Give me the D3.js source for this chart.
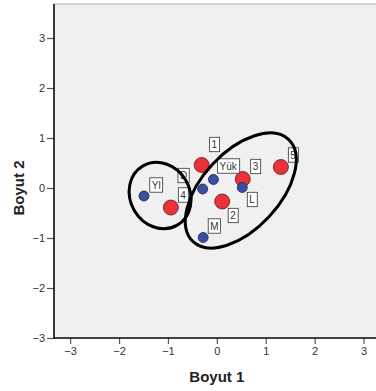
<!DOCTYPE html>
<html>
<head>
<meta charset="utf-8">
<script src="https://cdn.jsdelivr.net/npm/d3@7"></script>
<style>
  html, body { margin: 0; padding: 0; background: #ffffff; }
  svg { display: block; font-family: "Liberation Sans", Arial, Helvetica, sans-serif; }
</style>
</head>
<body>
<svg id="chart" width="376" height="391"></svg>
<script>
// Stimulus coordinates (red) and subject-group coordinates (blue), two dimensions
const stimulusNames = ["1", "2", "3", "4", "5"];
const stimulusDim1  = [-0.31, 0.11, 0.53, -0.94, 1.31];
const stimulusDim2  = [0.46, -0.27, 0.18, -0.39, 0.42];
const stimulusLabelDim1 = [-0.05, 0.33, 0.79, -0.69, 1.56];
const stimulusLabelDim2 = [0.87, -0.55, 0.43, -0.14, 0.66];

const groupNames = ["Yl", "D", "Yük", "L", "M"];
const groupDim1  = [-1.49, -0.29, -0.07, 0.52, -0.28];
const groupDim2  = [-0.16, -0.02, 0.17, 0.01, -0.99];
const groupLabelDim1 = [-1.24, -0.68, 0.23, 0.72, -0.05];
const groupLabelDim2 = [0.06, 0.25, 0.44, -0.23, -0.76];

// Cluster outlines: centre, semi-axes (dimension units) and tilt in degrees
const clusterCx = [-1.16, 0.49];
const clusterCy = [-0.15, -0.05];
const clusterRx = [0.70, 1.43];
const clusterRy = [0.61, 0.79];
const clusterTilt = [60, -47];

const xTicks = [-3, -2, -1, 0, 1, 2, 3];
const yTicks = [-3, -2, -1, 0, 1, 2, 3];

const svg = d3.select("#chart");
const plot = { left: 54, top: 4, right: 380, bottom: 338 };

const x = d3.scaleLinear().domain([-3.33, 3.33]).range([plot.left, plot.left + 48.9 * 6.66]);
const y = d3.scaleLinear().domain([-3, 3.68]).range([plot.bottom, plot.top]);

// Plot background
svg.append("rect")
  .attr("x", plot.left).attr("y", plot.top)
  .attr("width", plot.right - plot.left).attr("height", plot.bottom - plot.top)
  .attr("fill", "#f0f0f0")
  .attr("stroke", "#b4b4b4").attr("stroke-width", 1);

// Axes
const xAxis = d3.axisBottom(x).tickValues(xTicks).tickSize(6).tickPadding(3).tickFormat(d3.format("d"));
const yAxis = d3.axisLeft(y).tickValues(yTicks).tickSize(7).tickPadding(2).tickFormat(d3.format("d"));

const gx = svg.append("g").attr("transform", `translate(0,${plot.bottom})`).call(xAxis);
const gy = svg.append("g").attr("transform", `translate(${plot.left},0)`).call(yAxis);

[gx, gy].forEach(g => {
  g.select(".domain").remove();
  g.selectAll(".tick line").attr("stroke", "#555").attr("stroke-width", 1.2);
  g.selectAll(".tick text")
    .attr("fill", "#333").style("font-size", "11px")
    .style("font-family", "'Liberation Sans', Arial, sans-serif");
});

svg.append("line")
  .attr("x1", plot.left).attr("x2", plot.left)
  .attr("y1", plot.top).attr("y2", plot.bottom + 0.5)
  .attr("stroke", "#111").attr("stroke-width", 1.6);
svg.append("line")
  .attr("x1", plot.left).attr("x2", plot.right)
  .attr("y1", plot.bottom).attr("y2", plot.bottom)
  .attr("stroke", "#111").attr("stroke-width", 1.6);

// Axis titles
svg.append("text")
  .attr("x", x(0)).attr("y", 382)
  .attr("text-anchor", "middle")
  .style("font-size", "15px").style("font-weight", "bold").attr("fill", "#222")
  .text("Boyut 1");
svg.append("text")
  .attr("transform", `translate(24,${y(0)}) rotate(-90)`)
  .attr("text-anchor", "middle")
  .style("font-size", "15px").style("font-weight", "bold").attr("fill", "#222")
  .text("Boyut 2");

const stimuli = stimulusNames.map((n, i) => ({
  name: n, d1: stimulusDim1[i], d2: stimulusDim2[i],
  l1: stimulusLabelDim1[i], l2: stimulusLabelDim2[i], kind: "stimulus"
}));
const groups = groupNames.map((n, i) => ({
  name: n, d1: groupDim1[i], d2: groupDim2[i],
  l1: groupLabelDim1[i], l2: groupLabelDim2[i], kind: "group"
}));

// Points
svg.append("g").selectAll("circle").data(stimuli).join("circle")
  .attr("cx", d => x(d.d1)).attr("cy", d => y(d.d2))
  .attr("r", 7.5)
  .attr("fill", "#ec3139").attr("stroke", "#5a1a1a").attr("stroke-width", 0.8);
svg.append("g").selectAll("circle").data(groups).join("circle")
  .attr("cx", d => x(d.d1)).attr("cy", d => y(d.d2))
  .attr("r", 5)
  .attr("fill", "#3a4ea3").attr("stroke", "#1b2450").attr("stroke-width", 0.8);

// Point labels in boxes
const labels = svg.append("g").selectAll("g").data(stimuli.concat(groups)).join("g")
  .attr("transform", d => `translate(${x(d.l1)},${y(d.l2)})`);
labels.append("text")
  .attr("text-anchor", "middle").attr("dy", "0.36em")
  .style("font-size", "10px").attr("fill", "#333")
  .text(d => d.name);
labels.each(function() {
  const g = d3.select(this);
  const bb = g.select("text").node().getBBox();
  g.insert("rect", "text")
    .attr("x", bb.x - 2).attr("y", -7.2)
    .attr("width", bb.width + 4).attr("height", 14.4)
    .attr("fill", "#ffffff").attr("stroke", "#333").attr("stroke-width", 0.8);
});

// Cluster outlines
const clusters = clusterCx.map((c, i) => ({
  cx: c, cy: clusterCy[i], rx: clusterRx[i], ry: clusterRy[i], tilt: clusterTilt[i]
}));
const unit = x(1) - x(0);
svg.append("g").selectAll("ellipse").data(clusters).join("ellipse")
  .attr("transform", d => `translate(${x(d.cx)},${y(d.cy)}) rotate(${d.tilt})`)
  .attr("rx", d => d.rx * unit).attr("ry", d => d.ry * unit)
  .attr("fill", "none").attr("stroke", "#000").attr("stroke-width", 3);
</script>
</body>
</html>
